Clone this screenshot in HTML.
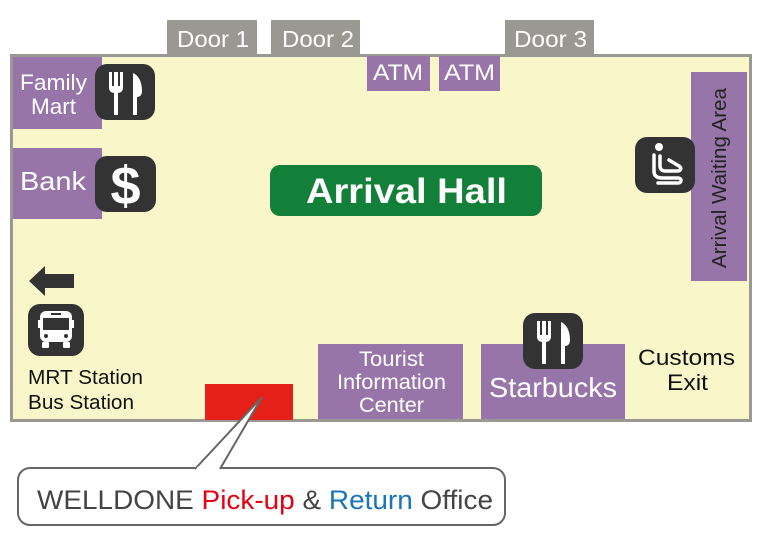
<!DOCTYPE html>
<html><head><meta charset="utf-8"><style>
html,body{margin:0;padding:0;background:#fff;width:760px;height:554px;overflow:hidden}
text{font-family:"Liberation Sans",sans-serif}
</style></head><body>
<svg width="760" height="554" viewBox="0 0 760 554" xmlns="http://www.w3.org/2000/svg">
<defs>
<g id="fk">
<rect x="0" y="0" width="60" height="56" rx="12" fill="#333"/>
<path d="M14 8v16a5 5 0 0 0 5 5v22h4V29a5 5 0 0 0 5-5V8h-3v14h-2V8h-4v14h-2V8z" fill="#fff"/>
<path d="M38 51V9c5 2 9 8 9 18 0 4-2 6-5 6v18z" fill="#fff"/>
</g>
</defs>
<!-- doors -->
<g fill="#9a9893"><rect x="167" y="20" width="90" height="36"/><rect x="271" y="20" width="89" height="36"/><rect x="505" y="20" width="89" height="36"/></g>
<g fill="#fff" font-size="23" lengthAdjust="spacingAndGlyphs">
<text x="177" y="47" textLength="72" lengthAdjust="spacingAndGlyphs">Door 1</text>
<text x="282" y="47" textLength="72" lengthAdjust="spacingAndGlyphs">Door 2</text>
<text x="514" y="47" textLength="73" lengthAdjust="spacingAndGlyphs">Door 3</text></g>
<!-- floor -->
<rect x="11.5" y="55.5" width="739" height="365" fill="#f9f6c9" stroke="#9a9893" stroke-width="3"/>
<!-- purple -->
<g fill="#9875a9">
<rect x="367" y="56" width="63" height="35"/><rect x="439" y="56" width="61" height="35"/>
<rect x="13" y="57" width="89" height="72"/><rect x="13" y="148" width="89" height="71"/>
<rect x="691" y="72" width="56" height="209"/>
<rect x="318" y="344" width="145" height="75"/><rect x="481" y="344" width="144" height="75"/>
</g>
<g fill="#fff" font-size="22">
<text x="373" y="80" textLength="50" lengthAdjust="spacingAndGlyphs">ATM</text>
<text x="444" y="80" textLength="51" lengthAdjust="spacingAndGlyphs">ATM</text>
<text x="20" y="90" textLength="67" lengthAdjust="spacingAndGlyphs">Family</text>
<text x="31" y="114" textLength="45" lengthAdjust="spacingAndGlyphs">Mart</text>
<text x="20" y="190" font-size="26" textLength="66" lengthAdjust="spacingAndGlyphs">Bank</text>
<text x="359" y="366" font-size="21" textLength="65" lengthAdjust="spacingAndGlyphs">Tourist</text>
<text x="337" y="389" font-size="21" textLength="109" lengthAdjust="spacingAndGlyphs">Information</text>
<text x="359" y="412" font-size="21" textLength="65" lengthAdjust="spacingAndGlyphs">Center</text>
<text x="489" y="397" font-size="28" textLength="128" lengthAdjust="spacingAndGlyphs">Starbucks</text>
</g>
<text transform="translate(726,268) rotate(-90)" font-size="20" fill="#222" textLength="180" lengthAdjust="spacingAndGlyphs">Arrival Waiting Area</text>
<!-- arrival hall -->
<rect x="270" y="165" width="272" height="51" rx="10" fill="#138039"/>
<text x="306" y="203" font-size="35" font-weight="bold" fill="#fff" textLength="201" lengthAdjust="spacingAndGlyphs">Arrival Hall</text>
<!-- icons -->
<use href="#fk" x="95" y="64"/>
<use href="#fk" x="523" y="313"/>
<rect x="95" y="156" width="61" height="56" rx="12" fill="#333"/>
<text x="125.5" y="204" text-anchor="middle" font-size="54" font-weight="bold" fill="#fff">$</text>
<rect x="635" y="137" width="60" height="56" rx="12" fill="#333"/>
<circle cx="659" cy="147" r="4" fill="#fff"/>
<path d="M654 155v16c0 5 3 7 8 7h16c4 0 4 5 0 5h-20" fill="none" stroke="#fff" stroke-width="3.5" stroke-linecap="round"/>
<path d="M660 156v10c0 3 2 5 5 5h12c4 0 5-3 2-5l-10-6" fill="none" stroke="#fff" stroke-width="3.5" stroke-linecap="round"/>
<!-- arrow -->
<path d="M29 281l16-15v8h29v14h-29v8z" fill="#333"/>
<!-- bus -->
<rect x="28" y="304" width="56" height="52" rx="12" fill="#333"/>
<path d="M40 320h-2v8h2zM72 320h2v8h-2z" fill="#fff"/>
<rect x="40" y="311" width="32" height="31" rx="6" fill="#fff"/>
<rect x="43" y="318" width="26" height="12" fill="#333"/>
<rect x="51" y="313" width="10" height="2" fill="#333"/>
<circle cx="46" cy="336" r="2" fill="#333"/><circle cx="66" cy="336" r="2" fill="#333"/>
<rect x="42" y="342" width="7" height="6" rx="1" fill="#fff"/><rect x="63" y="342" width="7" height="6" rx="1" fill="#fff"/>
<g font-size="20" fill="#111"><text x="28" y="384" textLength="115" lengthAdjust="spacingAndGlyphs">MRT Station</text><text x="28" y="409" textLength="106" lengthAdjust="spacingAndGlyphs">Bus Station</text></g>
<g font-size="22" fill="#111"><text x="638" y="365" textLength="97" lengthAdjust="spacingAndGlyphs">Customs</text><text x="667" y="390" textLength="41" lengthAdjust="spacingAndGlyphs">Exit</text></g>
<!-- red -->
<rect x="205" y="384" width="88" height="36" fill="#e52019"/>
<!-- callout -->
<rect x="18" y="468" width="487" height="57" rx="12" fill="#fff" stroke="#666" stroke-width="2"/>
<path d="M195 469L262 397L220 469" fill="#fff" stroke="#666" stroke-width="2" stroke-linejoin="miter"/>
<rect x="197" y="467" width="22" height="4" fill="#fff"/>
<text x="37" y="509" font-size="27" fill="#444" textLength="456" lengthAdjust="spacingAndGlyphs">WELLDONE <tspan fill="#e50012">Pick-up</tspan> &amp; <tspan fill="#1a74bb">Return</tspan> Office</text>
</svg>
</body></html>
